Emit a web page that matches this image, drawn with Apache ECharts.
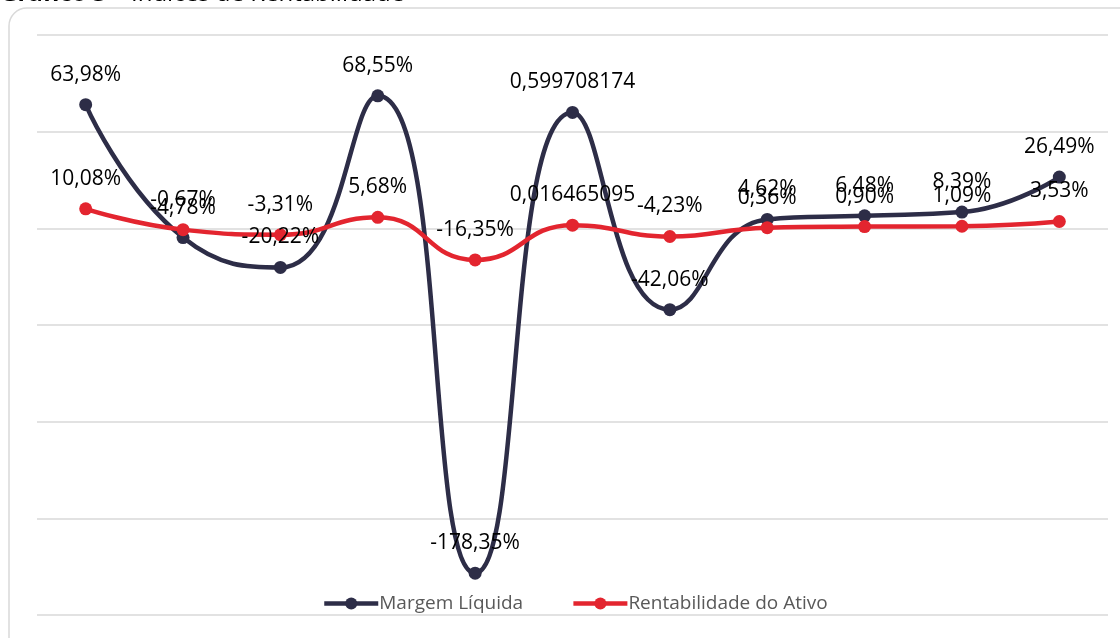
<!DOCTYPE html>
<html>
<head>
<meta charset="utf-8">
<script src="https://cdn.jsdelivr.net/npm/echarts@6/dist/echarts.min.js"></script>
<style>
  html, body { margin: 0; padding: 0; background: #fff; }
  #chart { width: 1120px; height: 638px; }
</style>
</head>
<body>
<div id="chart"></div>
<script>
// Gráfico 3 – Índices de Rentabilidade
var categorias = ['1', '2', '3', '4', '5', '6', '7', '8', '9', '10', '11'];
var margemLiquida = [0.6398, -0.0478, -0.2022, 0.6855, -1.7835, 0.599708174, -0.4206, 0.0462, 0.0648, 0.0839, 0.2649];
var rentabAtivo = [0.1008, -0.0067, -0.0331, 0.0568, -0.1635, 0.016465095, -0.0423, 0.0036, 0.0090, 0.0109, 0.0353];
// formato da célula: true = percentual, false = geral
var fmtMargem = [true, true, true, true, true, false, true, true, true, true, true];
var fmtRentab = [true, true, true, true, true, false, true, true, true, true, true];

function rotulo(fmt) {
  return function(p) {
    var v = p.value;
    if (fmt[p.dataIndex]) return (v * 100).toFixed(2).replace('.', ',') + '%';
    return String(v).replace('.', ',');
  };
}

var chart = echarts.init(document.getElementById('chart'));
var labelStyle = {
  show: true,
  position: 'top',
  distance: 13,
  fontFamily: 'Open Sans',
  fontSize: 21,
  color: '#000'
};

chart.setOption({
  animation: false,
  graphic: [
    {
      type: 'rect',
      shape: { x: 9, y: 8, width: 1130, height: 650, r: 18 },
      style: { fill: 'none', stroke: '#d9d9d9', lineWidth: 1.5 }
    },
    {
      type: 'text',
      left: 0, top: -18,
      style: {
        text: '{b|Gráfico 3} – Índices de Rentabilidade',
        rich: { b: { fontWeight: 'bold', fontSize: 24, fontFamily: 'Open Sans', fill: '#000' } },
        font: '24px Open Sans',
        fill: '#000'
      }
    }
  ],
  grid: { left: 37, right: 12, top: 35, bottom: 23 },
  legend: {
    bottom: 20,
    left: 317,
    itemWidth: 54,
    itemHeight: 15,
    itemGap: 48,
    lineStyle: { width: 4.5 },
    textStyle: { fontSize: 19, color: '#595959', fontFamily: 'Open Sans', padding: [0, 0, 0, -4] },
    data: ['Margem Líquida', 'Rentabilidade do Ativo']
  },
  xAxis: {
    type: 'category',
    data: categorias,
    axisLine: { show: false },
    axisTick: { show: false },
    axisLabel: { show: false }
  },
  yAxis: {
    type: 'value',
    min: -2,
    max: 1,
    interval: 0.5,
    axisLabel: { show: false },
    axisLine: { show: false },
    axisTick: { show: false },
    splitLine: { lineStyle: { color: '#d9d9d9', width: 1.5 } }
  },
  series: [
    {
      name: 'Margem Líquida',
      type: 'line',
      smooth: 0.5,
      data: margemLiquida,
      symbol: 'circle',
      symbolSize: 13,
      lineStyle: { color: '#2d2d47', width: 4.5 },
      itemStyle: { color: '#2d2d47' },
      label: Object.assign({ formatter: rotulo(fmtMargem) }, labelStyle)
    },
    {
      name: 'Rentabilidade do Ativo',
      type: 'line',
      smooth: 0.5,
      data: rentabAtivo,
      symbol: 'circle',
      symbolSize: 13,
      lineStyle: { color: '#e3252f', width: 4.5 },
      itemStyle: { color: '#e3252f' },
      label: Object.assign({ formatter: rotulo(fmtRentab) }, labelStyle)
    }
  ]
});
</script>
</body>
</html>
